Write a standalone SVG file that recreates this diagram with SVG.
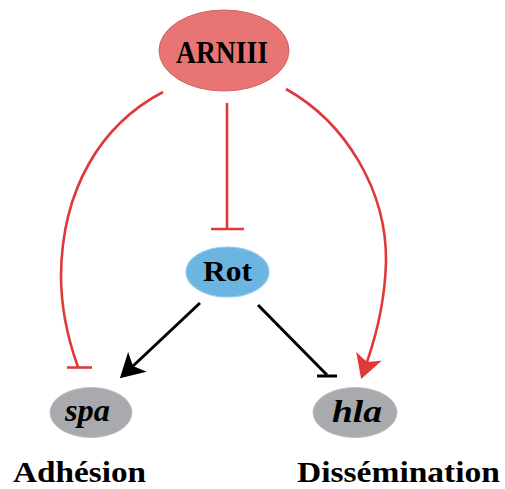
<svg xmlns="http://www.w3.org/2000/svg" width="505" height="489" viewBox="0 0 505 489">
<style>
text{font-family:"Liberation Serif","Times New Roman",serif;font-weight:bold;fill:#000}
.it{font-style:italic}
.red{stroke:#e0393a;stroke-width:2.6;fill:none}
.blk{stroke:#000;stroke-width:3;fill:none}
.gene{fill:#a9aaad;stroke:#bcbdc0;stroke-width:1}
</style>
<defs>
<marker id="arrR" markerUnits="userSpaceOnUse" markerWidth="30" markerHeight="30" viewBox="-8 -15 30 30" refX="0" refY="0" orient="auto" overflow="visible">
<path d="M18,0 L-6,-13.5 L0,0 L-6,13.5 Z" fill="#e0393a"/>
</marker>
<marker id="arrB" markerUnits="userSpaceOnUse" markerWidth="30" markerHeight="30" viewBox="-8 -15 30 30" refX="0" refY="0" orient="auto" overflow="visible">
<path d="M18,0 L-6,-13.5 L0,0 L-6,13.5 Z" fill="#000"/>
</marker>
</defs>
<g id="connectors">
<path class="red" d="M163,92 C100,125 62,190 61,275 C61,315 70,345 78,367"/>
<path class="red" d="M67,367.5 H92"/>
<path class="red" d="M227,103 V229"/>
<path class="red" d="M211,229 H244"/>
<path class="red" d="M286,89 C345,122 387,190 386,262 C385,300 378,330 367,362" marker-end="url(#arrR)"/>
<path class="blk" d="M200,303 L133,366" marker-end="url(#arrB)"/>
<path class="blk" d="M258,305 L327,375"/>
<path class="blk" d="M317,376 H337"/>
</g>
<g id="ARNIII">
<ellipse cx="224" cy="50.5" rx="65" ry="40.5" fill="#e87474" stroke="#cf6262" stroke-width="1"/>
<text x="176" y="63" font-size="31" textLength="92" lengthAdjust="spacingAndGlyphs">ARNIII</text>
</g>
<g id="Rot">
<ellipse cx="227.5" cy="272" rx="41.5" ry="25" fill="#6cb5e1" stroke="#8ccaee" stroke-width="1.2"/>
<text x="203" y="281" font-size="29" textLength="49" lengthAdjust="spacingAndGlyphs">Rot</text>
</g>
<g id="spa">
<ellipse class="gene" cx="91" cy="412.5" rx="41" ry="25"/>
<text class="it" x="65" y="421" font-size="31" textLength="45" lengthAdjust="spacingAndGlyphs">spa</text>
</g>
<g id="hla">
<ellipse class="gene" cx="355" cy="412.5" rx="42" ry="25"/>
<text class="it" x="332" y="422" font-size="31" textLength="50" lengthAdjust="spacingAndGlyphs">hla</text>
</g>
<g id="Adhesion">
<text x="13" y="482" font-size="30" textLength="133" lengthAdjust="spacingAndGlyphs">Adhésion</text>
</g>
<g id="Dissemination">
<text x="297" y="482" font-size="30" textLength="203" lengthAdjust="spacingAndGlyphs">Dissémination</text>
</g>
</svg>
